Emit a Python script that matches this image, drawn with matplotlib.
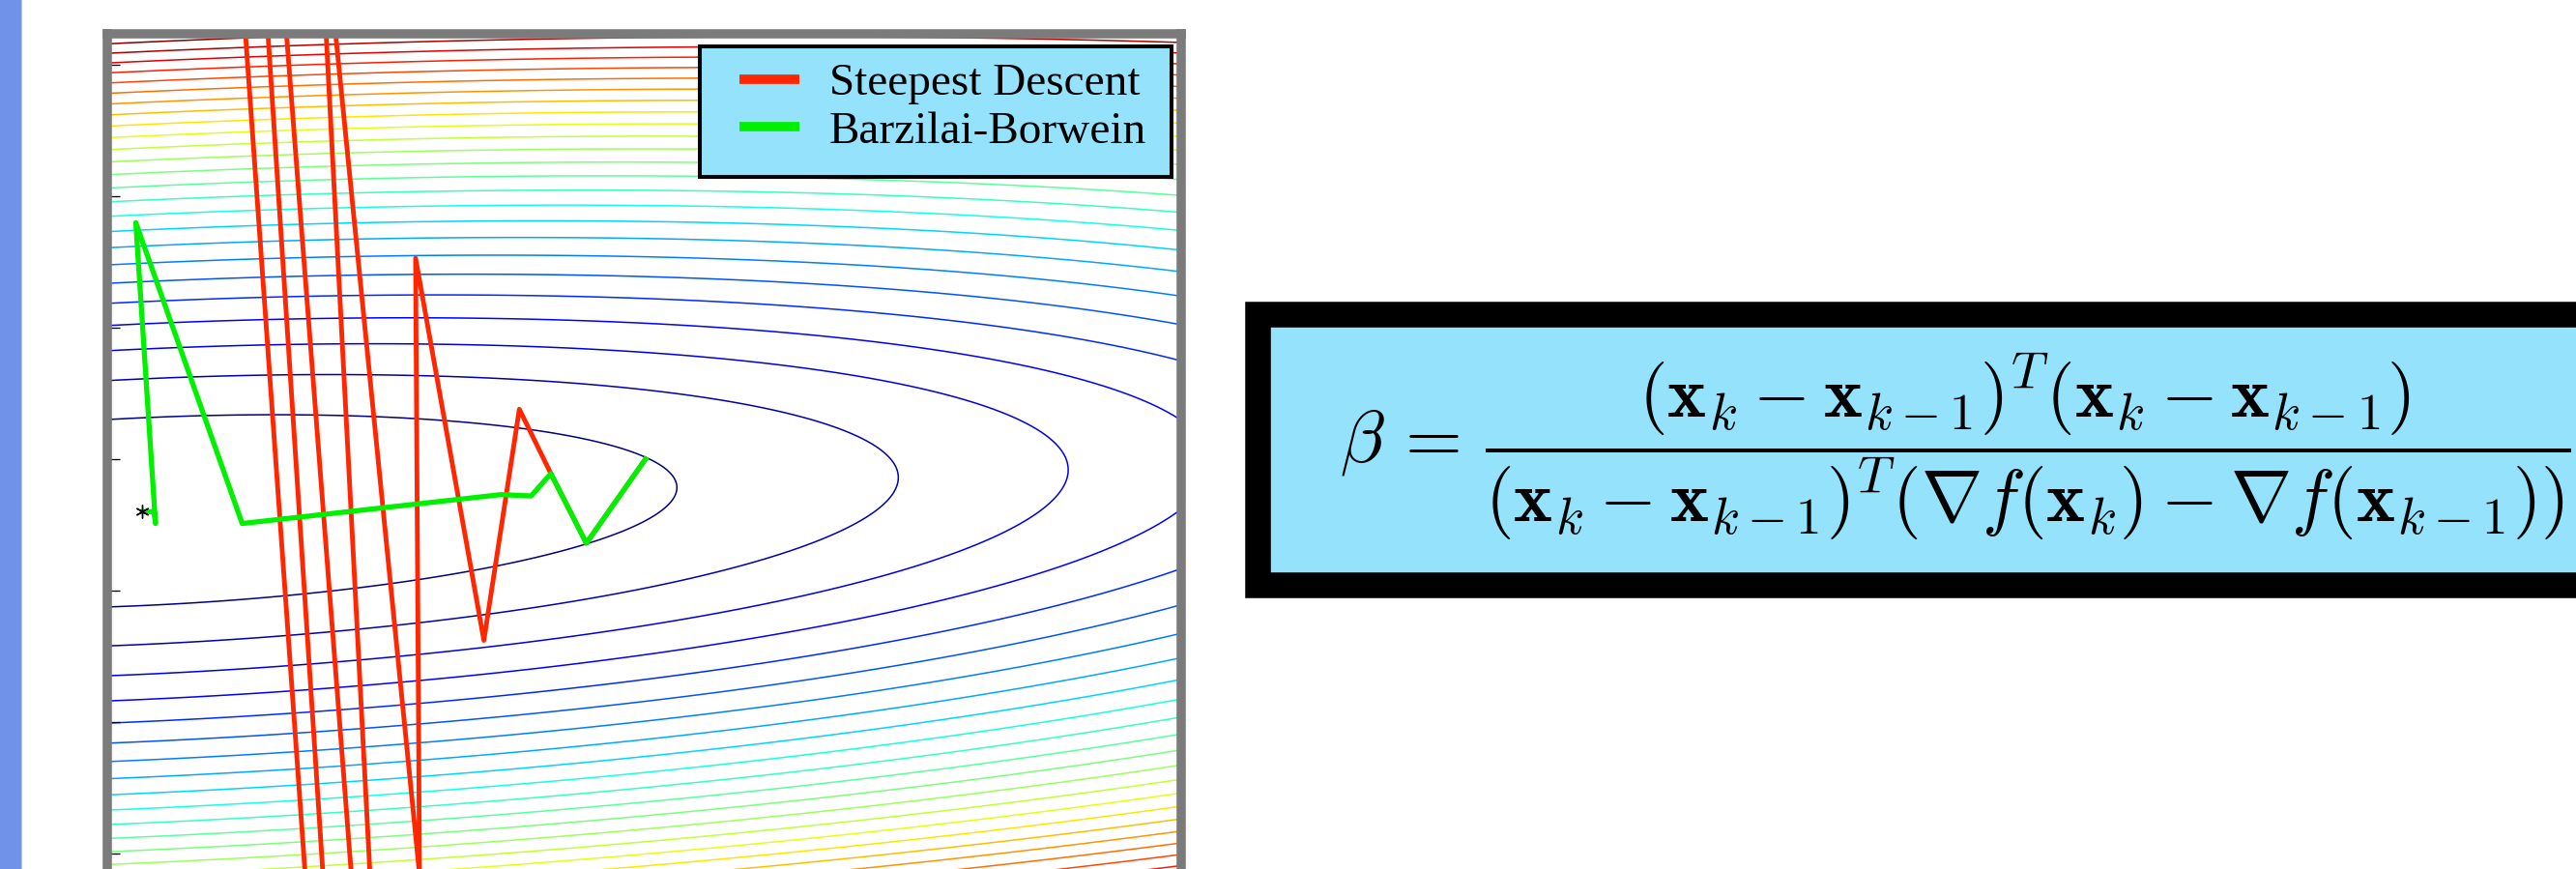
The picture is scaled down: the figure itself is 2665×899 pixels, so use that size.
import numpy as np
import matplotlib
matplotlib.use("Agg")
import matplotlib.pyplot as plt
from matplotlib.patches import Rectangle
from matplotlib.colors import Normalize
from matplotlib.font_manager import FontProperties

plt.rcParams["mathtext.fontset"] = "cm"

# ---- data -------------------------------------------------------------
# steepest-descent iterates (the zig-zag runs far outside the window)
sd_x = [4.06, 3.61, 3.34, 3.10, 2.83, 2.31, 2.34, 1.55, 2.26, 0.40, 3.18, -2.12]
sd_y = [0.00, -0.64, -0.11, 0.38, -1.38, 1.53, -3.16, 4.75, -8.85, 15.25, -27.23, 47.35]
# Barzilai-Borwein iterates
bb_x = [4.06, 3.61, 3.34, 3.19, 2.96, 0.99, 0.18, 0.33, 0.32, 0.23]
bb_y = [0.00, -0.64, -0.11, -0.28, -0.27, -0.49, 1.80, -0.49, -0.40, -0.40]
# minimiser of the quadratic objective
x_star = [0.23]
y_star = [-0.40]
# f(x, y) = qxx*dx^2 + qxy*dx*dy + qyy*dy^2 around the minimiser
qxx, qxy, qyy = 0.0329, -0.0904, 1.0
level_step = 0.511
n_levels = 25
y_ticks = [-3, -2, -1, 0, 1, 2, 3]
legend_labels = ["Steepest Descent", "Barzilai-Borwein"]
formula = (r"$\beta\,=\,\dfrac{(\mathbf{x}_k - \mathbf{x}_{k-1})^T(\mathbf{x}_k - \mathbf{x}_{k-1})}"
           r"{(\mathbf{x}_k - \mathbf{x}_{k-1})^T(\nabla f(\mathbf{x}_k) - \nabla f(\mathbf{x}_{k-1}))}$")

# ---- styling ----------------------------------------------------------
red = "#FF2600"
green = "#00F000"
box_blue = "#94E2FC"
frame_grey = "#7b7b7b"
xlim = (-0.037, 8.135)
ylim = (-3.238, 3.238)

W, H = 2665, 899
fig = plt.figure(figsize=(W / 100, H / 100), dpi=100, facecolor="white")


def fx(p):
    return p / W


def fy(p):
    return 1 - p / H


# slide accent bar on the left
fig.add_artist(Rectangle((0, 0), fx(22), 1, transform=fig.transFigure,
                         facecolor="#7192E9", edgecolor="none", zorder=0))
fig.add_artist(Rectangle((fx(22), 0), fx(1.3), 1, transform=fig.transFigure,
                         facecolor="#B4C6F2", edgecolor="none", zorder=0))

# ---- contour plot with the two iterate paths ---------------------------
ax = fig.add_axes([fx(111), fy(915), fx(1221.5) - fx(111), fy(35) - fy(915)])
ax.set_facecolor("white")

xs = np.linspace(xlim[0], xlim[1], 1400)
ys = np.linspace(ylim[0], ylim[1], 1000)
X, Y = np.meshgrid(xs, ys)
DX = X - x_star[0]
DY = Y - y_star[0]
Z = qxx * DX ** 2 + qxy * DX * DY + qyy * DY ** 2
levels = level_step * np.arange(1, n_levels + 1)
ax.contour(X, Y, Z, levels=levels, cmap="jet",
           norm=Normalize(levels[0], levels[-1]), linewidths=1.1, zorder=1)

sd_line, = ax.plot(sd_x, sd_y, color=red, lw=3.5, zorder=3, label=legend_labels[0])
bb_line, = ax.plot(bb_x, bb_y, color=green, lw=3.8, zorder=4, label=legend_labels[1])
ax.plot(x_star, y_star, linestyle="none", marker=(6, 2, 0), markersize=10,
        markeredgecolor="k", markeredgewidth=1.0, zorder=5)

ax.set_xlim(*xlim)
ax.set_ylim(*ylim)
ax.set_xticks([])
ax.set_yticks(y_ticks)
ax.tick_params(axis="y", direction="in", length=9.4, width=0.95, color="k",
               left=True, right=False, labelleft=False)
for sp in ax.spines.values():
    sp.set_linewidth(6.9)
    sp.set_edgecolor(frame_grey)
    sp.set_capstyle("projecting")
    sp.set_zorder(10)

# legend panel
ax.add_artist(Rectangle((fx(723.7), fy(183)), fx(1212) - fx(723.7), fy(47.7) - fy(183),
                        transform=fig.transFigure, facecolor=box_blue, edgecolor="k",
                        linewidth=2.9, zorder=6, clip_on=False))

leg_font = FontProperties(family="Liberation Serif", size=34)
fs_px = 34 * 100 / 72


def make_legend(spacing, anchor):
    lg = ax.legend(handles=[sd_line, bb_line], loc="upper left", bbox_to_anchor=anchor,
                   bbox_transform=fig.transFigure, frameon=False, prop=leg_font,
                   handlelength=62 / fs_px, handletextpad=31 / fs_px,
                   labelspacing=spacing, borderpad=0, borderaxespad=0)
    lg.set_zorder(7)
    for ln in lg.get_lines():
        ln.set_linewidth(7.0)
        ln.set_solid_capstyle("butt")
    return lg


def handle_pos(lg, i, renderer):
    b = lg.get_lines()[i].get_window_extent(renderer)
    return b.x0, 0.5 * (b.y0 + b.y1)


anchor0 = (fx(765), fy(40))
leg = make_legend(0.15, anchor0)
fig.canvas.draw()
rend = fig.canvas.get_renderer()
_, ya = handle_pos(leg, 0, rend)
_, yb = handle_pos(leg, 1, rend)
row_gap = 49.4
spacing = 0.15 + (row_gap - (ya - yb)) / fs_px
leg.remove()
leg = make_legend(spacing, anchor0)
fig.canvas.draw()
xa, ya = handle_pos(leg, 0, rend)
leg.set_bbox_to_anchor((anchor0[0] + (765 - xa) / W, anchor0[1] + ((H - 81.7) - ya) / H),
                       transform=fig.transFigure)

# ---- formula panel -------------------------------------------------------
fig.add_artist(Rectangle((fx(1301.3), fy(605)), fx(2740) - fx(1301.3), fy(325.3) - fy(605),
                         transform=fig.transFigure, facecolor=box_blue, edgecolor="k",
                         linewidth=19.1, zorder=1))
eq_left, eq_right = 1386, 2660
eq = fig.text(fx(eq_left), fy(462), formula, fontsize=55.4, ha="left", va="center",
              color="k", zorder=2)
# keep the whole formula on the canvas
for _ in range(2):
    ext = eq.get_window_extent(rend)
    if ext.x1 > eq_right:
        eq.set_fontsize(eq.get_fontsize() * (eq_right - eq_left) / (ext.x1 - eq_left))

fig.savefig("out.png", dpi=100)
